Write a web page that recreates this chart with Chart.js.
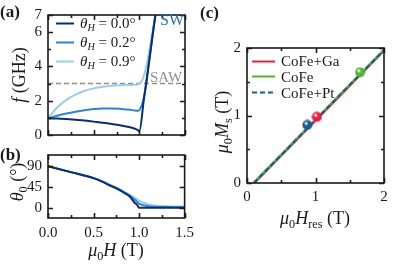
<!DOCTYPE html>
<html>
<head>
<meta charset="utf-8">
<script src="https://cdn.jsdelivr.net/npm/chart.js@4"></script>
<style>
  body { margin: 0; background: #fff; }
  #wrap { position: relative; width: 399px; height: 267px; overflow: hidden;
          font-family: 'Liberation Serif', 'Times New Roman', serif; color: #1a1a1a; }
  canvas { position: absolute; }
  .txt { position: absolute; white-space: nowrap; line-height: 1; }
  .rot { transform: translate(-50%, -50%) rotate(-90deg); }
  .hc { transform: translate(-50%, -50%); }
  .plab { font-weight: bold; font-size: 17px; }
  .leg { position: absolute; display: flex; align-items: center; white-space: nowrap; line-height: 1; }
  .sw { display: inline-block; height: 2px; margin-right: 6px; }
  sub { font-size: 0.68em; vertical-align: -0.3em; line-height: 0; }
</style>
</head>
<body>
<div id="wrap">
  <canvas id="chartA" width="200" height="150" style="left:0;top:0"></canvas>
  <canvas id="chartB" width="200" height="127" style="left:0;top:140px"></canvas>
  <canvas id="chartC" width="199" height="267" style="left:200px;top:0"></canvas>

  <div class="txt plab" style="left:0;top:3px">(a)</div>
  <div class="txt plab" style="left:0;top:146px">(b)</div>
  <div class="txt plab" style="left:200px;top:4px">(c)</div>

  <div class="txt rot" style="left:19px;top:75px;font-size:18px"><i>f</i> (GHz)</div>
  <div class="txt rot" style="left:17px;top:182px;font-size:18px"><i>θ</i><sub>0</sub> (°)</div>
  <div class="txt hc" style="left:116px;top:250px;font-size:18px"><i>μ</i><sub>0</sub><i>H</i> (T)</div>
  <div class="txt rot" style="left:222px;top:122px;font-size:18px"><i>μ</i><sub>0</sub><i>M</i><sub>s</sub> (T)</div>
  <div class="txt hc" style="left:315px;top:218px;font-size:18px"><i>μ</i><sub>0</sub><i>H</i><sub>res</sub> (T)</div>

  <div class="txt" style="left:160px;top:12px;font-size:16px;color:#2b6fae">SW</div>
  <div class="txt" style="left:150px;top:70px;font-size:15px;color:#8f8f8f">SAW</div>

  <div id="legA"></div>
  <div id="legC"></div>
</div>
<script>
const serif = "'Liberation Serif', 'Times New Roman', serif";
Chart.defaults.font.family = serif;
Chart.defaults.font.size = 15;
Chart.defaults.color = '#1a1a1a';

// (a) frequency vs field
const angleLabels = ['0.0°', '0.2°', '0.9°'];
const blueShades = ['#0c2d6b', '#3282c6', '#9fcbe8'];

const hDark = [0, 0.1, 0.2, 0.3, 0.4, 0.5, 0.6, 0.7, 0.8, 0.9, 0.95, 0.98, 1.0, 1.05, 1.1, 1.15, 1.2];
const fDark = [0.97, 0.96, 0.93, 0.89, 0.84, 0.78, 0.72, 0.64, 0.56, 0.45, 0.37, 0.3, 0.22, 2.1, 4.0, 6.0, 7.9];

const hMid = [0, 0.1, 0.2, 0.3, 0.4, 0.5, 0.6, 0.7, 0.8, 0.9, 0.95, 0.99, 1.02, 1.04, 1.06, 1.08, 1.1, 1.15, 1.2];
const fMid = [0.97, 1.12, 1.25, 1.36, 1.45, 1.52, 1.55, 1.55, 1.52, 1.47, 1.43, 1.42, 1.65, 1.95, 2.45, 3.15, 4.0, 6.0, 7.9];

const hLight = [0, 0.05, 0.1, 0.2, 0.3, 0.4, 0.5, 0.6, 0.7, 0.8, 0.9, 0.95, 0.98, 1.0, 1.02, 1.04, 1.06, 1.08, 1.1, 1.15, 1.2];
const fLight = [0.97, 1.3, 1.6, 2.05, 2.35, 2.58, 2.72, 2.81, 2.87, 2.9, 2.92, 2.93, 2.95, 3.0, 3.1, 3.3, 3.65, 4.1, 4.65, 6.2, 8.0];

const sawFreq = 3;

// (b) equilibrium angle vs field
const hAngle = [0, 0.25, 0.5, 0.6, 0.68, 0.75, 0.83, 0.9, 0.95, 0.98, 1.0, 1.05, 1.1, 1.15, 1.2, 1.3, 1.4, 1.5];
const theta00 = [90, 77, 64, 56, 48, 42, 33, 24, 11, 6, 0, 0, 0, 0, 0, 0, 0, 0];
const theta02 = [90, 77, 64, 56.5, 49, 43, 34, 26, 18, 12.5, 9, 5.5, 3.5, 2.5, 2, 1.5, 1.2, 1];
const theta09 = [90, 77.5, 64.5, 57, 50, 44, 35.5, 28, 22, 18, 15.5, 11, 7.5, 5.5, 4.5, 3.5, 3, 2.7];
const thetaTicks = [0, 45, 90];

// (c) saturation magnetisation vs resonance field
const sampleNames = ['CoFe+Ga', 'CoFe', 'CoFe+Pt'];
const sampleColors = ['#e2203f', '#58ad3c', '#1f5b8e'];
const lineHres = [[0.11, 2.0], [0.09, 2.0], [0.1, 2.0]];
const lineMs = [[0, 1.96], [0, 1.98], [0, 1.97]];
const pointHres = [1.02, 1.65, 0.88];
const pointMs = [0.98, 1.64, 0.86];

const xy = (xs, ys) => xs.map((x, i) => ({x: x, y: ys[i]}));

// inward ticks on all four sides plus the frame
const frameTicks = {
  id: 'frameTicks',
  afterDatasetsDraw(chart, args, opts) {
    const {ctx, chartArea: a, scales} = chart;
    ctx.save();
    ctx.strokeStyle = '#1a1a1a';
    ctx.lineWidth = 1.6;
    const mark = (scale, step, horizontal) => {
      const majors = scale.ticks.map(t => t.value);
      const start = Math.ceil((scale.min - 1e-9) / step) * step;
      for (let v = start; v <= scale.max + 1e-9; v += step) {
        const isMajor = majors.some(m => Math.abs(m - v) < 1e-6);
        const len = isMajor ? 5 : 3;
        const p = Math.round(scale.getPixelForValue(v)) + 0.5;
        ctx.beginPath();
        if (horizontal) {
          ctx.moveTo(p, a.bottom); ctx.lineTo(p, a.bottom - len);
          ctx.moveTo(p, a.top); ctx.lineTo(p, a.top + len);
        } else {
          ctx.moveTo(a.left, p); ctx.lineTo(a.left + len, p);
          ctx.moveTo(a.right, p); ctx.lineTo(a.right - len, p);
        }
        ctx.stroke();
      }
    };
    mark(scales.x, opts.xStep, true);
    mark(scales.y, opts.yStep, false);
    ctx.strokeRect(a.left, a.top, a.width, a.height);
    ctx.restore();
  }
};

function axes(o) {
  const tickFont = {family: serif, size: 15};
  return {
    x: {
      type: 'linear', min: o.xMin, max: o.xMax,
      grid: {display: false, drawTicks: false}, border: {display: false},
      ticks: {display: o.xLabels, stepSize: o.xMajor, padding: o.xPad, font: tickFont,
              callback: v => o.xFmt(v), maxRotation: 0},
      afterFit: s => { s.height = o.xH; }
    },
    y: {
      type: 'linear', min: o.yMin, max: o.yMax,
      grid: {display: false, drawTicks: false}, border: {display: false},
      ticks: {stepSize: o.yMajor, padding: 6, font: tickFont, callback: v => String(v)},
      afterBuildTicks: o.yTicks ? s => { s.ticks = o.yTicks.map(v => ({value: v})); } : undefined,
      afterFit: s => { s.width = o.yW; }
    }
  };
}

const common = {
  responsive: false, animation: false, devicePixelRatio: 1,
  plugins: {legend: {display: false}, tooltip: {enabled: false}}
};

new Chart(document.getElementById('chartA'), {
  type: 'line',
  data: {
    datasets: [
      {data: xy(hDark, fDark), borderColor: blueShades[0]},
      {data: xy(hMid, fMid), borderColor: blueShades[1]},
      {data: xy(hLight, fLight), borderColor: blueShades[2]},
      {data: xy([0, 1.5], [sawFreq, sawFreq]), borderColor: '#8f8f8f', borderWidth: 1.5,
       borderDash: [5, 3], order: 9}
    ].map(d => Object.assign({borderWidth: 2, pointRadius: 0, cubicInterpolationMode: 'monotone'}, d))
  },
  options: Object.assign({}, common, {
    layout: {padding: {top: 6, right: 15, left: 0, bottom: 0}},
    scales: axes({xMin: 0, xMax: 1.5, xMajor: 0.5, xLabels: false, xPad: 0, xH: 7, xFmt: v => v.toFixed(1),
                  yMin: 0, yMax: 7, yMajor: 2, yW: 48}),
    plugins: Object.assign({}, common.plugins, {frameTicks: {xStep: 0.25, yStep: 1}})
  }),
  plugins: [frameTicks]
});

new Chart(document.getElementById('chartB'), {
  type: 'line',
  data: {
    datasets: [theta00, theta02, theta09].map((t, i) => ({
      data: xy(hAngle, t), borderColor: blueShades[i], borderWidth: 2, pointRadius: 0,
      cubicInterpolationMode: 'monotone'
    }))
  },
  options: Object.assign({}, common, {
    layout: {padding: {top: 10, right: 15, left: 0, bottom: 0}},
    scales: axes({xMin: 0, xMax: 1.5, xMajor: 0.5, xLabels: true, xPad: 6, xH: 49, xFmt: v => v.toFixed(1),
                  yMin: -22, yMax: 114, yMajor: 45, yTicks: thetaTicks, yW: 48}),
    plugins: Object.assign({}, common.plugins, {frameTicks: {xStep: 0.25, yStep: 45}})
  }),
  plugins: [frameTicks]
});

function sphere(color) {
  const c = document.createElement('canvas');
  c.width = 11; c.height = 11;
  const g = c.getContext('2d');
  const grad = g.createRadialGradient(4, 3.5, 0.5, 5.5, 5.5, 5.5);
  grad.addColorStop(0, '#ffffff');
  grad.addColorStop(0.35, color);
  grad.addColorStop(1, color);
  g.fillStyle = grad;
  g.beginPath(); g.arc(5.5, 5.5, 5, 0, Math.PI * 2); g.fill();
  return c;
}

const lineSets = sampleNames.map((n, i) => ({
  type: 'line', label: n, data: xy(lineHres[i], lineMs[i]), borderColor: sampleColors[i],
  borderWidth: 2, pointRadius: 0, borderDash: i === 2 ? [5, 3] : [], order: 3 - i
}));
const pointSets = sampleNames.map((n, i) => ({
  type: 'scatter', data: [{x: pointHres[i], y: pointMs[i]}],
  pointStyle: sphere(sampleColors[i]), pointRadius: 5, order: 0
}));

new Chart(document.getElementById('chartC'), {
  type: 'scatter',
  data: {datasets: lineSets.concat(pointSets)},
  options: Object.assign({}, common, {
    layout: {padding: {top: 48, right: 15, left: 0, bottom: 0}},
    scales: axes({xMin: 0, xMax: 2, xMajor: 1, xLabels: true, xPad: 5, xH: 84, xFmt: v => String(v),
                  yMin: 0, yMax: 2, yMajor: 1, yW: 47}),
    plugins: Object.assign({}, common.plugins, {frameTicks: {xStep: 0.5, yStep: 0.5}})
  }),
  plugins: [frameTicks]
});

// legends
const legA = document.getElementById('legA');
angleLabels.forEach((lab, i) => {
  const row = document.createElement('div');
  row.className = 'leg';
  row.style.cssText = 'left:56px;top:' + (23 + i * 19) + 'px;font-size:15px;transform:translateY(-50%)';
  row.innerHTML = '<span class="sw" style="width:18px;background:' + blueShades[i] + '"></span>' +
    '<span><i>θ</i><sub><i>H</i></sub> = ' + lab + '</span>';
  legA.appendChild(row);
});
const legC = document.getElementById('legC');
sampleNames.forEach((lab, i) => {
  const row = document.createElement('div');
  row.className = 'leg';
  row.style.cssText = 'left:252px;top:' + (61 + i * 15.8) + 'px;font-size:15px;transform:translateY(-50%)';
  const bg = i === 2
    ? 'repeating-linear-gradient(90deg,' + sampleColors[i] + ' 0 5px, transparent 5px 8px)'
    : sampleColors[i];
  row.innerHTML = '<span class="sw" style="width:23px;background:' + bg + '"></span><span>' + lab + '</span>';
  legC.appendChild(row);
});
</script>
</body>
</html>
